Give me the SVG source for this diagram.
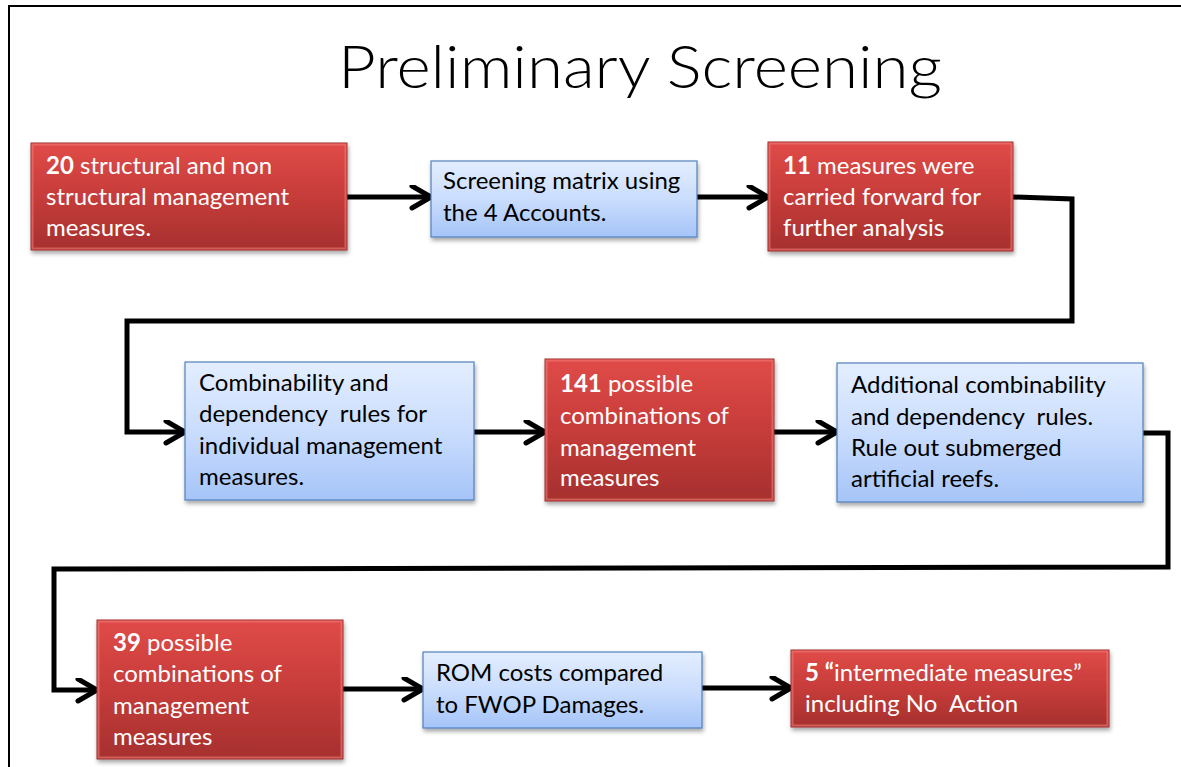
<svg xmlns="http://www.w3.org/2000/svg" width="1181" height="767" viewBox="0 0 1181 767">
  <defs>
    <linearGradient id="redFill" x1="0" y1="0" x2="0" y2="1">
      <stop offset="0" stop-color="#E04B48"/>
      <stop offset="0.5" stop-color="#C63C3A"/>
      <stop offset="1" stop-color="#A6302E"/>
    </linearGradient>
    <linearGradient id="blueFill" x1="0" y1="0" x2="0" y2="1">
      <stop offset="0" stop-color="#E3EEFF"/>
      <stop offset="0.5" stop-color="#CADDFD"/>
      <stop offset="1" stop-color="#A5C4F8"/>
    </linearGradient>
    <filter id="shadow" x="-10%" y="-10%" width="120%" height="130%">
      <feDropShadow dx="1" dy="3" stdDeviation="2" flood-color="#000" flood-opacity="0.35"/>
    </filter>
    <marker id="chevron" markerWidth="30" markerHeight="30" refX="22" refY="12" orient="auto" markerUnits="userSpaceOnUse">
      <path d="M3,1 L22,12 L3,23" fill="none" stroke="#000" stroke-width="5" stroke-linecap="round" stroke-linejoin="miter"/>
    </marker>
  </defs>
  <style>
    .frame { fill: none; stroke: #000; stroke-width: 2; }
    .title { font-family: Lato, "Open Sans", "Liberation Sans", sans-serif; font-weight: 300; font-size: 60px; fill: #000; }
    .red rect.box { fill: url(#redFill); stroke: #9A2E2C; stroke-width: 1; filter: url(#shadow); }
    .red rect.hl { fill: none; stroke: #F07A77; stroke-width: 2; opacity: 0.6; }
    .blue rect.box { fill: url(#blueFill); stroke: #4F81BD; stroke-width: 1.2; filter: url(#shadow); }
    .lbl { font-family: Lato, "Open Sans", "Liberation Sans", sans-serif; font-size: 24px; white-space: pre; }
    .red .lbl { fill: #fff; }
    .blue .lbl { fill: #000; }
    .b { font-weight: bold; }
    .conn path { fill: none; stroke: #000; stroke-width: 5; stroke-linejoin: miter; }
  </style>

  <!-- page frame -->
  <path class="frame" d="M9,767 V6 H1181"/>

  <text class="title" x="640" y="88" text-anchor="middle" textLength="604" lengthAdjust="spacingAndGlyphs">Preliminary Screening</text>

  <!-- connectors -->
  <g id="connectors" class="conn">
    <path d="M347,197 H431" marker-end="url(#chevron)"/>
    <path d="M697,197 H768" marker-end="url(#chevron)"/>
    <path d="M1013,197 L1072,199 V321 H127 V432 H185" marker-end="url(#chevron)"/>
    <path d="M474,432 H545" marker-end="url(#chevron)"/>
    <path d="M774,432 H837" marker-end="url(#chevron)"/>
    <path d="M1143,433 H1168 V567 L54,569 V690 H97" marker-end="url(#chevron)"/>
    <path d="M343,689 H423" marker-end="url(#chevron)"/>
    <path d="M702,688 H791" marker-end="url(#chevron)"/>
  </g>

  <g id="n1" class="red">
    <rect class="box" x="31" y="143" width="316" height="107"/>
    <rect class="hl" x="32.5" y="144.5" width="313" height="104"/>
    <text class="lbl"><tspan x="46" y="174"><tspan class="b">20</tspan> structural and non</tspan><tspan x="46" y="205">structural management</tspan><tspan x="46" y="236">measures.</tspan></text>
  </g>

  <g id="n2" class="blue">
    <rect class="box" x="431" y="161" width="266" height="76"/>
    <text class="lbl"><tspan x="443" y="189">Screening matrix using</tspan><tspan x="443" y="221">the 4 Accounts.</tspan></text>
  </g>

  <g id="n3" class="red">
    <rect class="box" x="768" y="142" width="245" height="109"/>
    <rect class="hl" x="769.5" y="143.5" width="242" height="106"/>
    <text class="lbl"><tspan x="783" y="174"><tspan class="b">11</tspan> measures were</tspan><tspan x="783" y="205">carried forward for</tspan><tspan x="783" y="236">further analysis</tspan></text>
  </g>

  <g id="n4" class="blue">
    <rect class="box" x="185" y="362" width="289" height="138"/>
    <text class="lbl"><tspan x="199" y="391">Combinability and</tspan><tspan x="199" y="422">dependency  rules for</tspan><tspan x="199" y="454">individual management</tspan><tspan x="199" y="485">measures.</tspan></text>
  </g>

  <g id="n5" class="red">
    <rect class="box" x="545" y="359" width="229" height="142"/>
    <rect class="hl" x="546.5" y="360.5" width="226" height="139"/>
    <text class="lbl"><tspan x="560" y="392"><tspan class="b">141</tspan> possible</tspan><tspan x="560" y="424">combinations of</tspan><tspan x="560" y="456">management</tspan><tspan x="560" y="486">measures</tspan></text>
  </g>

  <g id="n6" class="blue">
    <rect class="box" x="837" y="363" width="306" height="139"/>
    <text class="lbl"><tspan x="851" y="393">Additional combinability</tspan><tspan x="851" y="425">and dependency  rules.</tspan><tspan x="851" y="456">Rule out submerged</tspan><tspan x="851" y="487">artificial reefs.</tspan></text>
  </g>

  <g id="n7" class="red">
    <rect class="box" x="97" y="620" width="246" height="139"/>
    <rect class="hl" x="98.5" y="621.5" width="243" height="136"/>
    <text class="lbl"><tspan x="113" y="651"><tspan class="b">39</tspan> possible</tspan><tspan x="113" y="682">combinations of</tspan><tspan x="113" y="714">management</tspan><tspan x="113" y="745">measures</tspan></text>
  </g>

  <g id="n8" class="blue">
    <rect class="box" x="423" y="652" width="279" height="76"/>
    <text class="lbl"><tspan x="436" y="681">ROM costs compared</tspan><tspan x="436" y="713">to FWOP Damages.</tspan></text>
  </g>

  <g id="n9" class="red">
    <rect class="box" x="791" y="650" width="318" height="77"/>
    <rect class="hl" x="792.5" y="651.5" width="315" height="74"/>
    <text class="lbl"><tspan x="805" y="681"><tspan class="b">5 “</tspan>intermediate measures”</tspan><tspan x="805" y="712">including No  Action</tspan></text>
  </g>
</svg>
